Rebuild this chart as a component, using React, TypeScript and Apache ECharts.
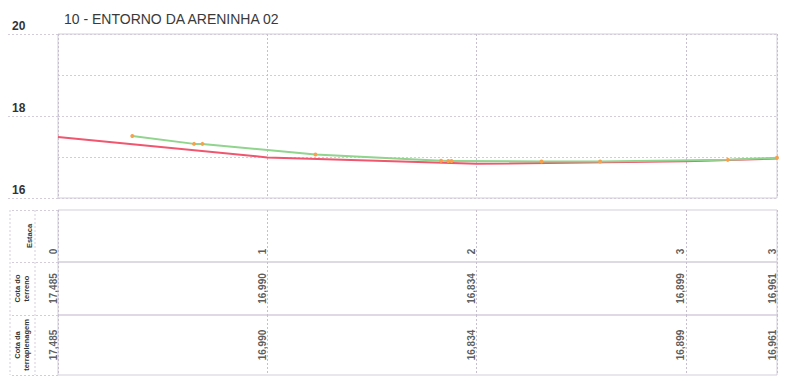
import React, { useEffect, useRef } from "react";
import * as echarts from "echarts";

const titleText = "10 - ENTORNO DA ARENINHA 02";
// stations (distance in m) and table values
const stationDist = [0, 20, 40, 60, 68.7];
const stationLabels = ["0", "1", "2", "3", "3"];
const cotaTerreno = [17.485, 16.99, 16.834, 16.899, 16.961];
const cotaTerraplenagem = [17.485, 16.99, 16.834, 16.899, 16.961];
// surveyed natural ground profile (green)
const naturalDist = [7.1, 13.0, 13.8, 24.6, 36.6, 37.3, 37.6, 46.2, 51.8, 64.0, 68.7];
const naturalCota = [17.51, 17.32, 17.32, 17.06, 16.91, 16.9, 16.9, 16.89, 16.89, 16.93, 16.98];
const yTicks = [16, 18, 20];
const rowLabels = ["Estaca", "Cota do\nterreno", "Cota da\nterraplenagem"];

const fmt = (v: number) => v.toFixed(3).replace(".", ",");
const rowValues = [stationLabels, cotaTerreno.map(fmt), cotaTerraplenagem.map(fmt)];

export default function App() {
  const ref = useRef<HTMLDivElement>(null);
  useEffect(() => {
    document.body.style.margin = "0";
    const chart = echarts.init(ref.current!, null, { renderer: "svg" });
    const END = stationDist[stationDist.length - 1];
    const LEFT = 58;
    const RIGHT = 9;
    const lineCol = "#d3cdda";
    const vCol = "#c6bfd0";
    const dash: any = [2, 2];
    const narrow = "'Liberation Sans Narrow', 'Arial Narrow', 'Liberation Sans', sans-serif";
    const rows = [
      { top: 210, height: 52 },
      { top: 262, height: 53 },
      { top: 315, height: 60 },
    ];
    const option: any = {
      animation: false,
      backgroundColor: "#ffffff",
      title: {
        text: titleText,
        left: 59,
        top: 7,
        textStyle: { fontSize: 14, fontWeight: "normal", color: "#3a3a3a", fontFamily: "'Liberation Sans', Arial, sans-serif" },
      },
      grid: [
        { left: LEFT, right: RIGHT, top: 34, height: 164, show: true, borderColor: lineCol, borderWidth: 1 },
        ...rows.map((r) => ({ left: LEFT, right: RIGHT, top: r.top, height: r.height, show: true, borderColor: lineCol, borderWidth: 1 })),
      ],
      xAxis: [0, 1, 2, 3].map((i) => ({
        gridIndex: i,
        type: "value",
        min: 0,
        max: END,
        interval: 20,
        axisLabel: { show: false },
        axisTick: { show: false },
        axisLine: { show: false },
        splitLine: { show: true, lineStyle: { color: vCol, type: dash, width: 1 } },
      })),
      yAxis: [
        {
          gridIndex: 0,
          type: "value",
          min: yTicks[0],
          max: yTicks[yTicks.length - 1],
          interval: (yTicks[1] - yTicks[0]) / 2,
          axisLabel: { show: false },
          axisLine: { show: false },
          axisTick: { show: false },
          splitLine: { show: true, lineStyle: { color: lineCol, type: dash } },
        },
        {
          gridIndex: 0,
          type: "value",
          position: "left",
          min: yTicks[0],
          max: yTicks[yTicks.length - 1],
          interval: yTicks[1] - yTicks[0],
          axisLine: { show: false },
          splitLine: { show: false },
          axisTick: { show: true, inside: false, length: 50, lineStyle: { color: lineCol, type: dash } },
          axisLabel: {
            show: true,
            align: "left",
            verticalAlign: "bottom",
            margin: 46,
            fontSize: 12,
            fontWeight: "bold",
            color: "#333",
            padding: [0, 0, 2, 0],
            fontFamily: "'Liberation Sans', Arial, sans-serif",
          },
        },
        ...rows.map((r, i) => ({
          gridIndex: i + 1,
          type: "value",
          min: 0,
          max: 1,
          interval: 1,
          axisLabel: { show: false },
          axisLine: { show: false },
          splitLine: { show: false },
          axisTick: { show: true, inside: false, length: 48, lineStyle: { color: lineCol, type: dash } },
          name: rowLabels[i],
          nameLocation: "middle",
          nameGap: i === 0 ? 24 : 27,
          nameRotate: 90,
          nameTextStyle: { fontSize: 7.5, lineHeight: 9, fontFamily: narrow, color: "#333", fontWeight: "bold" },
        })),
      ],
      graphic: {
        elements: [
          { type: "line", shape: { x1: 10, y1: 210, x2: 10, y2: 375 }, style: { stroke: lineCol, lineWidth: 1, lineDash: dash }, silent: true },
          { type: "line", shape: { x1: 35, y1: 210, x2: 35, y2: 375 }, style: { stroke: lineCol, lineWidth: 1, lineDash: dash }, silent: true },
        ],
      },
      series: [
        {
          type: "line",
          name: "Terraplenagem",
          xAxisIndex: 0,
          yAxisIndex: 0,
          data: stationDist.map((d, k) => [d, cotaTerraplenagem[k]]),
          showSymbol: false,
          symbol: "none",
          lineStyle: { color: "#f0566e", width: 2 },
          itemStyle: { color: "#f0566e" },
        },
        {
          type: "line",
          name: "Terreno natural",
          xAxisIndex: 0,
          yAxisIndex: 0,
          data: naturalDist.map((d, k) => [d, naturalCota[k]]),
          symbol: "circle",
          symbolSize: 4,
          showSymbol: true,
          lineStyle: { color: "#90d48e", width: 2 },
          itemStyle: { color: "#f4a24e" },
        },
        ...rows.map((r, i) => ({
          type: "scatter",
          xAxisIndex: i + 1,
          yAxisIndex: i + 2,
          symbolSize: 1,
          silent: true,
          clip: false,
          itemStyle: { color: "rgba(0,0,0,0)" },
          data: stationDist.map((d) => [d, i === 0 ? 0.15 : 0.5]),
          label: {
            show: true,
            position: "inside",
            rotate: 90,
            align: i === 0 ? "left" : "center",
            verticalAlign: "bottom",
            formatter: (p: any) => rowValues[i][p.dataIndex],
            fontSize: 10,
            fontWeight: "bold",
            fontFamily: narrow,
            color: "#333",
          },
        })),
      ],
    };
    chart.setOption(option);
    return () => chart.dispose();
  }, []);
  return <div ref={ref} style={{ position: "absolute", left: 0, top: 0, width: 786, height: 381 }} />;
}
